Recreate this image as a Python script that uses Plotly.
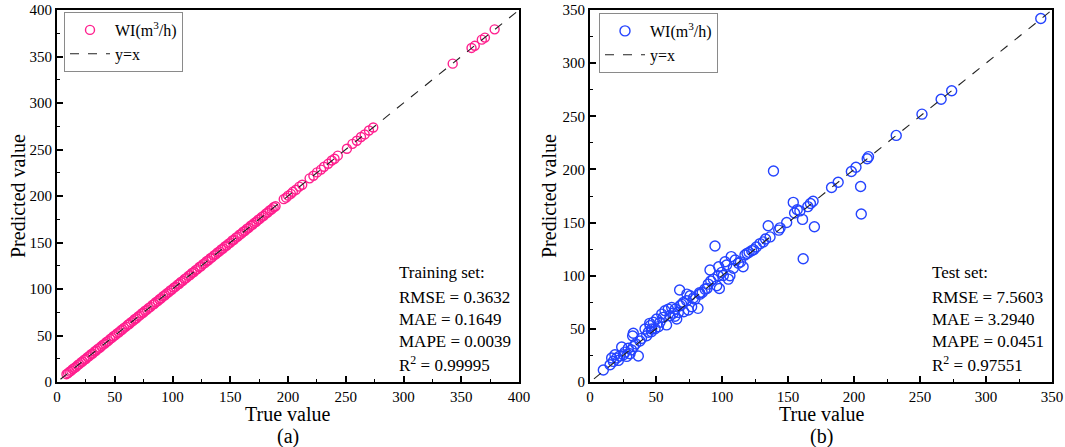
import plotly.graph_objects as go

# ---------------- data ----------------
train_true = [8.2, 9.6, 10.9, 12.4, 13.5, 15.0, 16.6, 17.9, 19.3, 20.8, 22.1, 23.7, 25.2, 26.4, 28.0, 29.5,
              30.9, 32.6, 34.0, 35.3, 37.0, 38.4, 39.9, 41.5, 42.8, 44.4, 46.1, 47.5, 48.9, 50.6, 52.0, 53.7,
              55.1, 56.6, 58.0, 59.7, 61.2, 62.6, 64.1, 65.9, 67.2, 68.8, 70.3, 71.7, 73.4, 74.9, 76.3, 78.0,
              79.4, 81.0, 82.6, 84.1, 85.5, 87.3, 88.8, 90.2, 91.9, 93.5, 94.8, 96.6, 98.1, 99.6, 101.2, 102.7,
              104.4, 105.9, 107.3, 109.0, 110.6, 112.1, 113.8, 115.2, 116.9, 118.5, 120.0, 121.6, 123.3, 124.7,
              126.4, 128.0, 129.5, 131.1, 132.8, 134.2, 135.9, 137.5, 139.0, 140.7, 142.2, 143.8, 145.4, 147.0,
              148.5, 150.1, 151.8, 153.2, 154.9, 156.5, 158.0, 159.7, 161.2, 162.8, 164.5, 166.0, 167.7, 169.3,
              170.8, 172.5, 174.1, 175.6, 177.3, 179.0, 180.8, 182.4, 184.1, 185.9, 187.6, 189.2,
              196.3, 198.4, 200.1, 202.5, 204.2, 206.9, 209.8, 212.3, 218.7, 222.0, 225.1, 228.6, 231.2, 234.8,
              237.9, 240.3, 243.1, 251.0, 255.8, 259.6, 263.2, 266.4, 270.1, 273.8,
              342.6, 358.9, 361.7, 367.8, 370.5, 378.9]
train_pred = [8.4, 9.5, 11.1, 12.2, 13.8, 15.1, 16.4, 18.2, 19.2, 21.1, 22.0, 23.9, 25.0, 26.7, 27.9, 29.8,
              30.7, 32.8, 33.9, 35.6, 36.8, 38.5, 40.2, 41.3, 43.0, 44.2, 46.3, 47.4, 49.2, 50.4, 52.3, 53.5,
              55.3, 56.4, 58.2, 59.5, 61.5, 62.4, 64.3, 65.7, 67.5, 68.6, 70.5, 71.6, 73.6, 74.7, 76.6, 77.8,
              79.7, 80.8, 82.9, 83.9, 85.8, 87.1, 89.0, 90.0, 92.2, 93.3, 95.1, 96.4, 98.4, 99.4, 101.5, 102.5,
              104.7, 105.7, 107.6, 108.8, 110.9, 111.9, 114.1, 115.0, 117.2, 118.3, 120.3, 121.4, 123.6, 124.5,
              126.7, 127.8, 129.8, 130.9, 133.1, 134.0, 136.2, 137.3, 139.3, 140.5, 142.5, 143.6, 145.7, 146.8,
              148.8, 149.9, 152.1, 153.0, 155.2, 156.3, 158.3, 159.5, 161.5, 162.6, 164.8, 165.8, 168.0, 169.1,
              171.1, 172.3, 174.4, 175.4, 177.6, 178.8, 181.1, 182.2, 184.4, 185.7, 187.9, 189.0,
              196.6, 198.2, 200.4, 202.3, 204.5, 206.7, 210.1, 212.1, 219.0, 221.8, 225.4, 228.4, 231.5, 234.6,
              238.2, 240.1, 243.4, 250.8, 256.1, 259.4, 263.5, 266.2, 270.4, 273.6,
              342.3, 359.2, 361.5, 368.1, 370.3, 379.2]

test_true = [10.1, 15.2, 16.4, 17.7, 18.9, 20.2, 21.5, 22.7, 24.0, 25.3, 26.5, 27.8, 29.0, 30.3, 31.4, 32.3,
             32.8, 33.0, 34.6, 36.6, 37.8, 39.0, 41.7, 42.9, 44.2, 45.2, 45.5, 46.5, 46.7, 48.0, 49.3, 50.5,
             51.8, 53.0, 54.3, 55.6, 56.8, 58.0, 59.3, 60.6, 61.9, 63.1, 64.4, 64.6, 65.7, 66.9, 67.9, 68.2,
             69.5, 70.7, 71.0, 73.2, 73.4, 74.5, 75.8, 77.0, 78.3, 79.5, 81.8, 83.0, 83.3, 85.0, 87.1, 88.6,
             89.6, 90.9, 91.5, 93.4, 94.7, 96.0, 97.2, 97.5, 98.0, 99.7, 101.0, 102.3, 103.5, 104.8, 106.0,
             107.0, 108.6, 110.0, 112.4, 114.0, 116.0, 117.4, 119.0, 120.5, 122.5, 124.0, 126.0, 128.8, 131.3,
             133.0, 135.0, 136.4, 139.0, 143.0, 144.0, 149.0, 154.0, 155.0, 157.0, 159.0, 161.0, 161.5, 165.0,
             167.0, 169.0, 170.0, 183.0, 188.0, 198.0, 201.5, 205.0, 205.5, 210.0, 211.0, 232.0, 251.5, 266.0,
             274.0, 341.5]
test_pred = [11.3, 16.3, 22.6, 19.4, 25.7, 22.6, 20.3, 24.6, 33.0, 25.7, 28.1, 24.1, 31.7, 26.6, 30.2, 43.3,
             45.8, 33.3, 35.9, 24.5, 38.6, 41.0, 49.9, 43.5, 46.8, 55.2, 53.0, 47.3, 49.9, 56.2, 50.1, 59.3,
             52.1, 56.2, 63.9, 60.8, 67.0, 53.7, 68.6, 62.4, 70.1, 64.8, 61.8, 68.6, 59.3, 65.5, 86.5, 71.7,
             73.0, 74.8, 66.1, 76.4, 82.7, 67.7, 81.1, 70.8, 79.0, 78.0, 69.3, 84.0, 82.7, 84.2, 87.4, 88.0,
             92.1, 105.4, 95.0, 96.8, 127.9, 90.5, 99.9, 108.5, 88.0, 103.1, 100.2, 113.2, 110.1, 96.8, 99.9,
             118.0, 107.0, 114.8, 111.7, 113.0, 108.5, 119.5, 121.0, 122.0, 123.6, 124.5, 127.0, 130.2, 131.8,
             134.5, 147.0, 136.5, 198.5, 142.9, 145.0, 150.0, 169.0, 159.0, 162.0, 161.0, 153.0, 116.0, 165.0,
             168.0, 170.0, 146.0, 183.0, 188.0, 198.0, 202.0, 184.0, 158.0, 210.0, 212.0, 232.0, 252.0, 266.0,
             274.0, 342.0]

ref_line_a = [3, 400]
ref_line_b = [3, 350]

series_name = "WI(m<sup>3</sup>/h)"
stats_a = ["Training set:", "RMSE = 0.3632", "MAE = 0.1649", "MAPE = 0.0039", "R<sup>2</sup> = 0.99995"]
stats_b = ["Test set:", "RMSE = 7.5603", "MAE = 3.2940", "MAPE = 0.0451", "R<sup>2</sup> = 0.97551"]

# ---------------- figure ----------------
W, H = 1065, 447
FONT = "Liberation Serif"
PINK = "#ff1f8e"
BLUE = "#2443ff"

fig = go.Figure()

fig.add_trace(go.Scatter(x=train_true, y=train_pred, mode="markers", name=series_name,
                         marker=dict(symbol="circle-open", size=9, color=PINK, line=dict(width=1.4, color=PINK)),
                         xaxis="x", yaxis="y", legend="legend"))
fig.add_trace(go.Scatter(x=ref_line_a, y=ref_line_a, mode="lines", name="y=x",
                         line=dict(color="#222222", width=1.1, dash="dash"),
                         xaxis="x", yaxis="y", legend="legend"))
fig.add_trace(go.Scatter(x=test_true, y=test_pred, mode="markers", name=series_name,
                         marker=dict(symbol="circle-open", size=10, color=BLUE, line=dict(width=1.4, color=BLUE)),
                         xaxis="x2", yaxis="y2", legend="legend2"))
fig.add_trace(go.Scatter(x=ref_line_b, y=ref_line_b, mode="lines", name="y=x",
                         line=dict(color="#222222", width=1.1, dash="dash"),
                         xaxis="x2", yaxis="y2", legend="legend2"))

def px_x(p):
    return p / W

def px_y(p):
    return 1 - p / H

ax_common = dict(showgrid=False, zeroline=False, showline=True, linecolor="black", linewidth=2,
                 mirror=True, ticks="inside", ticklen=6, tickwidth=1.5, tickcolor="black",
                 automargin=False,
                 tickfont=dict(family=FONT, size=15, color="black"),
                 minor=dict(ticks="inside", ticklen=3, tickwidth=1.2, tickcolor="black", dtick=25))

Y0, Y1 = 10, 382
fig.update_layout(
    width=W, height=H, margin=dict(l=0, r=0, t=0, b=0, autoexpand=False),
    paper_bgcolor="white", plot_bgcolor="white",
    font=dict(family=FONT, color="black"),
    xaxis=dict(domain=[px_x(57), px_x(519)], range=[0, 400], dtick=50, anchor="y", **ax_common),
    yaxis=dict(domain=[px_y(Y1), px_y(Y0)], range=[0, 400], dtick=50, anchor="x", **ax_common),
    xaxis2=dict(domain=[px_x(590), px_x(1052)], range=[0, 350], dtick=50, anchor="y2", **ax_common),
    yaxis2=dict(domain=[px_y(Y1), px_y(Y0)], range=[0, 350], dtick=50, anchor="x2", **ax_common),
    legend=dict(x=px_x(64), y=px_y(12), xanchor="left", yanchor="top", itemwidth=40,
                bordercolor="#8a8a8a", borderwidth=1, bgcolor="white",
                font=dict(family=FONT, size=16, color="black"), tracegroupgap=0),
    legend2=dict(x=px_x(599), y=px_y(13), xanchor="left", yanchor="top", itemwidth=40,
                 bordercolor="#8a8a8a", borderwidth=1, bgcolor="white",
                 font=dict(family=FONT, size=16, color="black"), tracegroupgap=0),
)

ann = []
line_y = [272, 297, 319, 341, 364]
for txt, yy in zip(stats_a, line_y):
    ann.append(dict(text=txt, x=px_x(397), y=px_y(yy), xref="paper", yref="paper",
                    xanchor="left", yanchor="middle", showarrow=False,
                    font=dict(family=FONT, size=17, color="black")))
for txt, yy in zip(stats_b, line_y):
    ann.append(dict(text=txt, x=px_x(930), y=px_y(yy), xref="paper", yref="paper",
                    xanchor="left", yanchor="middle", showarrow=False,
                    font=dict(family=FONT, size=17, color="black")))

# axis titles and panel labels
for cx, lab in [((57 + 519) / 2, "(a)"), ((590 + 1052) / 2, "(b)")]:
    ann.append(dict(text="True value", x=px_x(cx), y=px_y(414), xref="paper", yref="paper",
                    xanchor="center", yanchor="middle", showarrow=False,
                    font=dict(family=FONT, size=20, color="black")))
    ann.append(dict(text=lab, x=px_x(cx), y=px_y(436), xref="paper", yref="paper",
                    xanchor="center", yanchor="middle", showarrow=False,
                    font=dict(family=FONT, size=20, color="black")))
for cx in [18, 549]:
    ann.append(dict(text="Predicted value", x=px_x(cx), y=px_y((Y0 + Y1) / 2), xref="paper", yref="paper",
                    xanchor="center", yanchor="middle", showarrow=False, textangle=-90,
                    font=dict(family=FONT, size=20, color="black")))

fig.update_layout(annotations=ann)
fig.write_html("out.html", config={"displayModeBar": False},
               post_script="document.body.style.margin='0';document.body.style.padding='0';"
                           "document.body.style.overflow='hidden';")
